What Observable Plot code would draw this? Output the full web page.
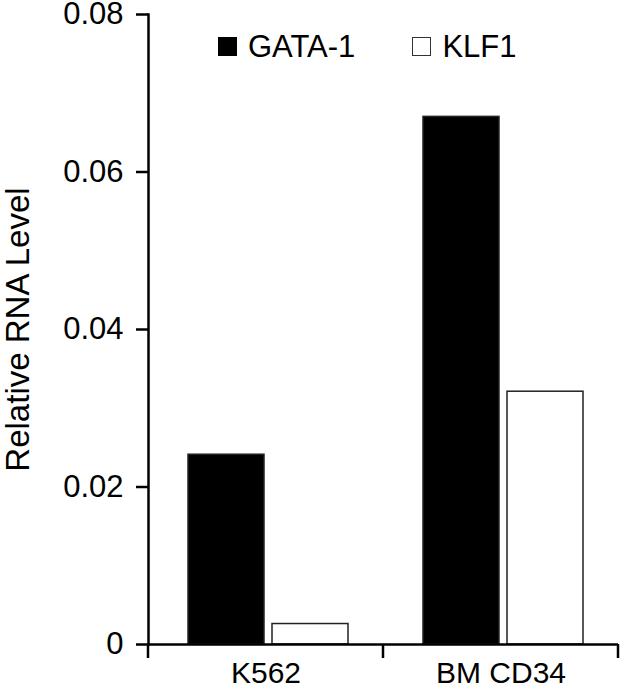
<!DOCTYPE html>
<html>
<head>
<meta charset="utf-8">
<script src="https://cdn.jsdelivr.net/npm/d3@7"></script>
<script src="https://cdn.jsdelivr.net/npm/@observablehq/plot@0.6"></script>
<style>
  html, body { margin: 0; padding: 0; background: #fff; }
  #wrap { position: relative; width: 625px; height: 689px; font-family: "Liberation Sans", Arial, sans-serif; }
  #chart svg line, #chart svg path { stroke-width: 2.5px; }
  #chart svg g[aria-label="y-axis label"] text { font-size: 33px; }
  #chart svg g[aria-label="fx-axis tick label"] text { font-size: 30px; }
  #legend { position: absolute; left: 218px; top: 31px; display: flex; align-items: center; font-size: 31px; color: #000; line-height: 1; }
  .item { display: flex; align-items: center; }
  .sw { width: 19px; height: 19px; box-sizing: border-box; margin-right: 11px; }
</style>
</head>
<body>
<div id="wrap">
  <div id="chart"></div>
  <div id="legend"></div>
</div>
<script>
const categories = ["K562", "BM CD34"];
const series = ["GATA-1", "KLF1"];
const gata1 = [0.0241, 0.0670];
const klf1 = [0.0026, 0.0321];
const yTicks = [0, 0.02, 0.04, 0.06, 0.08];
const yTickLabels = ["0", "0.02", "0.04", "0.06", "0.08"];
const yLabel = "Relative RNA Level";
const seriesFill = ["#000000", "#ffffff"];

const data = [];
categories.forEach((c, i) => {
  data.push({cell: c, series: series[0], value: gata1[i]});
  data.push({cell: c, series: series[1], value: klf1[i]});
});

const plot = Plot.plot({
  width: 625,
  height: 689,
  marginLeft: 148,
  marginRight: 7,
  marginTop: 14,
  marginBottom: 45,
  style: {fontSize: "31px", fontFamily: "'Liberation Sans', Arial, sans-serif", color: "#000", background: "#fff", overflow: "visible"},
  fx: {domain: categories, padding: 0, axis: "bottom", tickSize: 0, tickPadding: 17, label: null},
  x: {domain: series, axis: null, paddingInner: 0.09, paddingOuter: 0.44, align: 0.54},
  y: {domain: [0, 0.08], ticks: yTicks, tickFormat: (d, i) => yTickLabels[yTicks.indexOf(d)], tickSize: 12, tickPadding: 13,
      line: true, label: yLabel, labelAnchor: "center", labelOffset: 143, labelArrow: "none"},
  color: {domain: series, range: seriesFill},
  marks: [
    Plot.barY(data, {fx: "cell", x: "series", y: "value", fill: "series", stroke: "#222", strokeWidth: 1.5}),
    Plot.ruleY([0], {strokeWidth: 2.5})
  ]
});

document.getElementById("chart").appendChild(plot);

// category boundary ticks on the bottom axis, from Plot's own scales
const fxs = plot.scale("fx");
const ys = plot.scale("y");
const band = d3.scaleBand().domain(fxs.domain).range(fxs.range)
  .paddingInner(fxs.paddingInner || 0).paddingOuter(fxs.paddingOuter || 0);
const yScale = d3.scaleLinear().domain(ys.domain).range(ys.range);
const y0 = yScale(0);
const bounds = Array.from(new Set(categories.flatMap(c => [band(c), band(c) + band.bandwidth()])));
d3.select(plot).append("g").attr("aria-label", "fx-boundary ticks")
  .selectAll("line").data(bounds).join("line")
  .attr("x1", d => d).attr("x2", d => d)
  .attr("y1", y0).attr("y2", y0 + 14)
  .attr("stroke", "#000");

// legend
const legend = d3.select("#legend");
series.forEach((s, i) => {
  const it = legend.append("div").attr("class", "item").style("margin-right", i === 0 ? "57px" : "0");
  it.append("div").attr("class", "sw")
    .style("background", seriesFill[i])
    .style("border", i === 0 ? "1px solid #000" : "1.5px solid #333");
  it.append("span").text(s);
});
</script>
</body>
</html>
